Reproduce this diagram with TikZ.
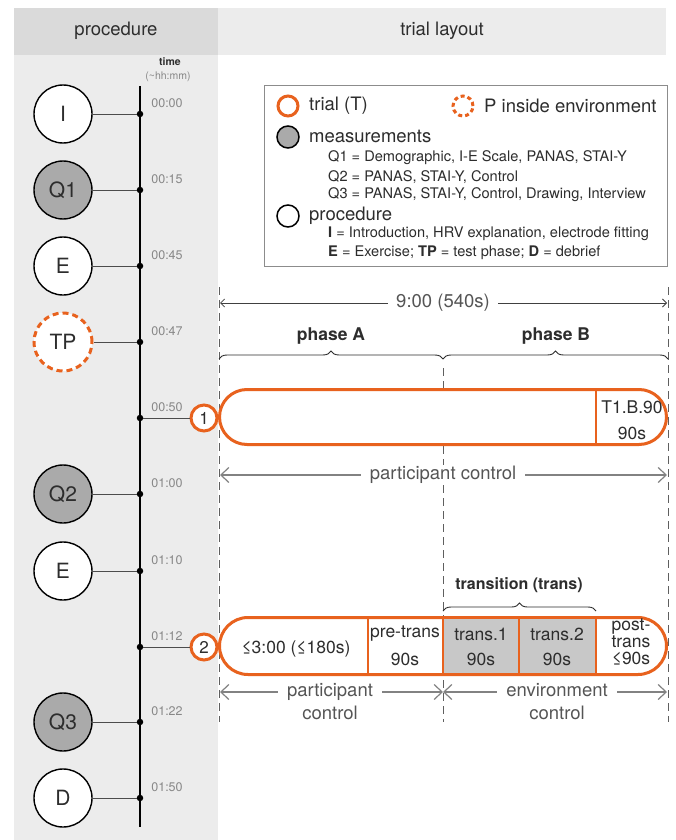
\documentclass[tikz,border=0pt]{standalone}
\usepackage{fontspec}
\setmainfont{TeX Gyre Heros}
\usetikzlibrary{arrows.meta,decorations.pathreplacing}
\definecolor{orng}{RGB}{232,98,30}
\definecolor{hdrL}{RGB}{218,218,218}
\definecolor{hdrR}{RGB}{236,236,236}
\definecolor{colL}{RGB}{236,236,236}
\definecolor{measgray}{RGB}{170,170,170}
\definecolor{transgray}{RGB}{200,200,200}
\definecolor{txt}{RGB}{45,45,45}
\definecolor{midtxt}{RGB}{85,85,85}
\definecolor{timetxt}{RGB}{135,135,135}
\definecolor{arrgray}{RGB}{130,130,130}
\definecolor{dashgray}{RGB}{95,95,95}
\newcommand{\fsz}[1]{\fontsize{#1}{#1}\selectfont}
\begin{document}
\begin{tikzpicture}[x=1pt,y=-1pt,
  every node/.style={text=txt},
  evc/.style={circle, draw=black, line width=1.4pt, minimum size=58pt, inner sep=0pt, fill=white, font=\fsz{21}},
  measc/.style={evc, fill=measgray},
  tpc/.style={evc, draw=orng, line width=3pt, dash pattern=on 6pt off 4pt},
  tdot/.style={circle, fill=black, inner sep=0pt, minimum size=6.5pt},
  tlab/.style={font=\fsz{12.5}, text=timetxt},
  conn/.style={draw=black!70, line width=0.8pt},
  trialmark/.style={circle, draw=orng, line width=3pt, fill=white, minimum size=26pt, inner sep=0pt, font=\fsz{17}},
  capsule/.style={draw=orng, line width=3pt, fill=white, minimum width=447pt, inner sep=0pt},
  seg/.style={font=\fsz{17.5}, align=center, inner sep=0pt},
  legtxt/.style={anchor=west, font=\fsz{18.5}, inner sep=0pt},
  legsub/.style={anchor=west, font=\fsz{14.6}, inner sep=0pt},
  vdash/.style={draw=dashgray, line width=0.9pt, dash pattern=on 8pt off 5pt},
  spanarrow/.style={draw=arrgray, line width=1.2pt, {Straight Barb[length=8pt,width=15pt]}-{Straight Barb[length=8pt,width=15pt]}},
  spantxt/.style={fill=white, font=\fsz{18.5}, text=midtxt, inner xsep=9pt, inner ysep=1pt, align=center},
  bracedec/.style={draw=txt, line width=0.9pt, decorate, decoration={brace, amplitude=8pt}},
]
\useasboundingbox (0,0) rectangle (676,840);
\fill[white] (0,0) rectangle (676,840);
% headers and left column
\fill[colL] (14,55) rectangle (218,840);
\fill[hdrL] (14,8) rectangle (218,55);
\fill[hdrR] (218,8) rectangle (666,55);
\node[font=\fsz{18.5}] (hproc) at (116,31) {procedure};
\node[font=\fsz{18.5}] (htrial) at (442,31) {trial layout};

% timeline
\node[font=\bfseries\fsz{10.5}, inner sep=0pt] (ttime) at (170,62) {time};
\node[font=\fsz{10.5}, text=timetxt, inner sep=0pt] (thhmm) at (168,77) {(\textasciitilde hh:mm)};
\coordinate (ttop) at (140,86);
\coordinate (tbot) at (140,827);
\draw[black, line width=1.5pt] (ttop) -- (tbot);

\node[evc] (eI) at (63,114) {I};
\node[tdot] (dI) at (140,114) {};
\node[tlab] (tI) at (167,103) {00:00};
\node[measc] (eQ1) at (63,190) {Q1};
\node[tdot] (dQ1) at (140,190) {};
\node[tlab] (tQ1) at (167,179) {00:15};
\node[evc] (eE1) at (63,266) {E};
\node[tdot] (dE1) at (140,266) {};
\node[tlab] (tE1) at (167,255) {00:45};
\node[tpc] (eTP) at (63,342) {TP};
\node[tdot] (dTP) at (140,342) {};
\node[tlab] (tTP) at (167,331) {00:47};
\node[tdot] (dT1) at (140,418) {};
\node[tlab] (tT1) at (167,407) {00:50};
\node[measc] (eQ2) at (63,494) {Q2};
\node[tdot] (dQ2) at (140,494) {};
\node[tlab] (tQ2) at (167,483) {01:00};
\node[evc] (eE2) at (63,571) {E};
\node[tdot] (dE2) at (140,571) {};
\node[tlab] (tE2) at (167,560) {01:10};
\node[tdot] (dT2) at (140,647) {};
\node[tlab] (tT2) at (167,636) {01:12};
\node[measc] (eQ3) at (63,722) {Q3};
\node[tdot] (dQ3) at (140,722) {};
\node[tlab] (tQ3) at (167,711) {01:22};
\node[evc] (eD) at (63,798) {D};
\node[tdot] (dD) at (140,798) {};
\node[tlab] (tD) at (167,787) {01:50};

\draw[conn] (eI) -- (dI);
\draw[conn] (eQ1) -- (dQ1);
\draw[conn] (eE1) -- (dE1);
\draw[conn] (eTP) -- (dTP);
\draw[conn] (eQ2) -- (dQ2);
\draw[conn] (eE2) -- (dE2);
\draw[conn] (eQ3) -- (dQ3);
\draw[conn] (eD) -- (dD);

% legend
\node[draw=black!45, line width=1pt, minimum width=403pt, minimum height=181pt, anchor=north west, inner sep=0pt] (legend) at (264,85) {};
\node[circle, draw=orng, line width=3pt, minimum size=20pt, inner sep=0pt] (lgT) at (288,106) {};
\node[legtxt] (lgTt) at (309,106) {trial (T)};
\node[circle, draw=orng, line width=3pt, minimum size=20pt, inner sep=0pt, dash pattern=on 4pt off 3pt] (lgP) at (463,106) {};
\node[legtxt] (lgPt) at (484,106) {P inside environment};
\node[circle, draw=black, line width=1.5pt, fill=measgray, minimum size=22pt, inner sep=0pt] (lgM) at (288,137) {};
\node[legtxt] (lgMt) at (309,136) {measurements};
\node[legsub] (lgQ1) at (328,158) {Q1 = Demographic, I-E Scale, PANAS, STAI-Y};
\node[legsub] (lgQ2) at (328,177) {Q2 = PANAS, STAI-Y, Control};
\node[legsub] (lgQ3) at (328,195) {Q3 = PANAS, STAI-Y, Control, Drawing, Interview};
\node[circle, draw=black, line width=1.5pt, fill=white, minimum size=22pt, inner sep=0pt] (lgR) at (288,216) {};
\node[legtxt] (lgRt) at (309,216) {procedure};
\node[legsub] (lgI) at (328,234) {\textbf{I} = Introduction, HRV explanation, electrode fitting};
\node[legsub] (lgE) at (328,253) {\textbf{E} = Exercise; \textbf{TP} = test phase; \textbf{D} = debrief};

% vertical dashed guides
\coordinate (gLt) at (219,287); \coordinate (gLb) at (219,722);
\coordinate (gMt) at (443,368); \coordinate (gMb) at (443,722);
\coordinate (gRt) at (668,287); \coordinate (gRb) at (668,722);
\draw[vdash] (gLt) -- (gLb);
\draw[vdash] (gMt) -- (gMb);
\draw[vdash] (gRt) -- (gRb);

% 9:00 span
\coordinate (n9L) at (220,303);
\coordinate (n9R) at (667,303);
\draw[draw=black!75, line width=0.8pt, {Straight Barb[length=4pt,width=8pt]}-{Straight Barb[length=4pt,width=8pt]}] (n9L) -- (n9R);
\node[spantxt, inner xsep=8pt] (n9t) at (443,303) {9:00 (540s)};

% phases
\node[font=\bfseries\fsz{17.5}] (phA) at (331,336) {phase A};
\node[font=\bfseries\fsz{17.5}] (phB) at (556,336) {phase B};
\coordinate (brA1) at (219,359); \coordinate (brA2) at (443,359);
\coordinate (brB1) at (443,359); \coordinate (brB2) at (668,359);
\draw[bracedec] (brA1) -- (brA2);
\draw[bracedec] (brB1) -- (brB2);

% trial 1
\node[capsule, minimum height=55pt, rounded corners=27.5pt] (trial1) at (443,417) {};
\coordinate (d1t) at (596,389.5); \coordinate (d1b) at (596,444.5);
\draw[orng, line width=2pt] (d1t) -- (d1b);
\node[seg] (t1a) at (632,407) {T1.B.90};
\node[seg] (t1b) at (632,433) {90s};
\node[trialmark] (m1) at (204,418) {1};
\draw[conn] (dT1) -- (m1);

% participant control 1
\coordinate (pc1L) at (220,475); \coordinate (pc1R) at (667,475);
\draw[spanarrow] (pc1L) -- (pc1R);
\node[spantxt] (pc1t) at (443,475) {participant control};

% transition
\node[font=\bfseries\fsz{16}] (trlab) at (519,585) {transition (trans)};
\coordinate (brT1) at (443,611); \coordinate (brT2) at (596,611);
\draw[bracedec] (brT1) -- (brT2);

% trial 2
\node[capsule, minimum height=57pt, rounded corners=28.5pt] (trial2) at (443,646) {};
\fill[transgray] (443,619) rectangle (596,673);
\coordinate (s1t) at (368,618); \coordinate (s1b) at (368,674);
\coordinate (s2t) at (443,618); \coordinate (s2b) at (443,674);
\coordinate (s3t) at (519,618); \coordinate (s3b) at (519,674);
\coordinate (s4t) at (596,618); \coordinate (s4b) at (596,674);
\draw[orng, line width=2pt] (s1t) -- (s1b);
\draw[orng, line width=2pt] (s2t) -- (s2b);
\draw[orng, line width=2pt] (s3t) -- (s3b);
\draw[orng, line width=2pt] (s4t) -- (s4b);
\node[seg] (sA) at (296,649) {≤3:00 (≤180s)};
\node[seg] (sB1) at (405,634) {pre-trans};
\node[seg] (sB2) at (405,659) {90s};
\node[seg] (sC1) at (481,634) {trans.1};
\node[seg] (sC2) at (481,659) {90s};
\node[seg] (sD1) at (557,634) {trans.2};
\node[seg] (sD2) at (557,659) {90s};
\node[seg] (sE1) at (631,627) {post-};
\node[seg] (sE2) at (631,642) {trans};
\node[seg] (sE3) at (631,659) {≤90s};
\node[trialmark] (m2) at (204,647) {2};
\draw[conn] (dT2) -- (m2);

% bottom spans
\coordinate (pc2L) at (220,692); \coordinate (pc2R) at (443,692);
\coordinate (ec2L) at (443,692); \coordinate (ec2R) at (667,692);
\draw[spanarrow] (pc2L) -- (pc2R);
\draw[spanarrow] (ec2L) -- (ec2R);
\node[spantxt, anchor=north, inner ysep=0pt] (pc2t) at (330,683) {participant\\[5pt]control};
\node[spantxt, anchor=north, inner ysep=0pt] (ec2t) at (557,683) {environment\\[5pt]control};
\end{tikzpicture}
\end{document}
